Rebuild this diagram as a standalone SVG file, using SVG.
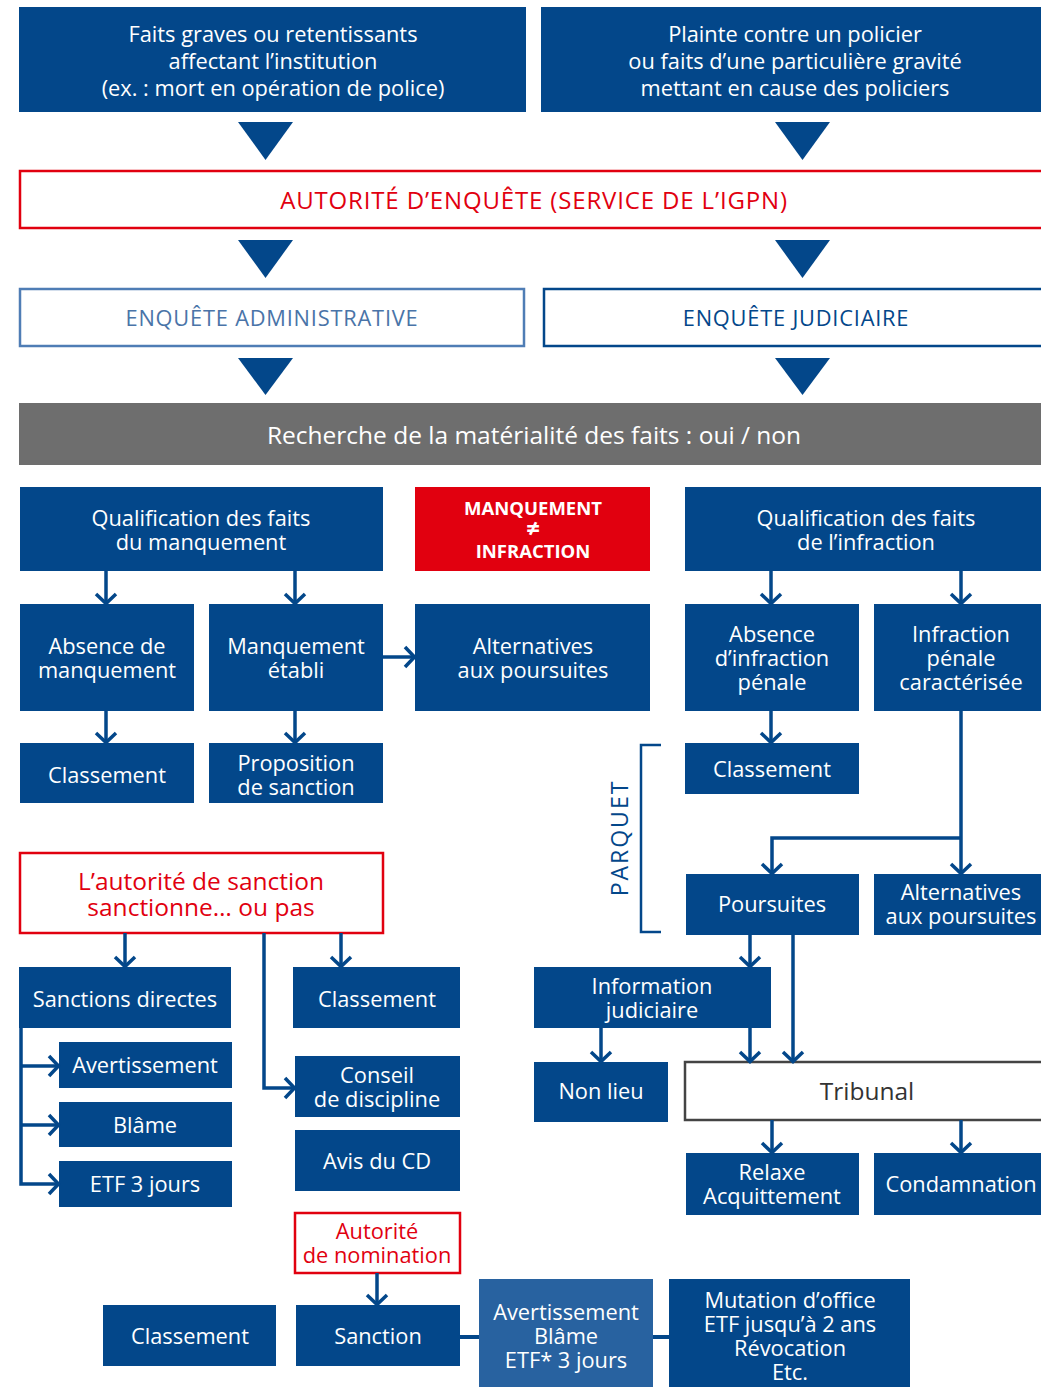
<svg xmlns="http://www.w3.org/2000/svg" width="1041" height="1387" viewBox="0 0 1041 1387">
  <style>
    .box { fill: #03478a; }
    .box2 { fill: #2862a0; }
    .redbox { fill: #e1000f; }
    .outline-red { fill: #fff; stroke: #e1000f; stroke-width: 2.5; }
    .t { font-family: "Open Sans", "Noto Sans", "DejaVu Sans", sans-serif; font-size: 21.8px; fill: #fff; text-anchor: middle; }
    .tr { fill: #e1000f; }
    .tb { font-weight: bold; font-size: 18.5px; }
    .big { font-size: 24.5px; }
    .caps { font-size: 21.8px; letter-spacing: 0.8px; }
    .conn { stroke: #03478a; stroke-width: 3.5; fill: none; }
    .tri { fill: #03478a; }
  </style>
  <defs>
    <marker id="chev" markerUnits="userSpaceOnUse" markerWidth="14" markerHeight="24" viewBox="0 0 14 24" refX="12" refY="12" orient="auto">
      <path d="M2,2 L11.5,12 L2,22" fill="none" stroke="#03478a" stroke-width="3.5"/>
    </marker>
  </defs>

  <rect width="1041" height="1387" fill="#fff"/>

  <!-- entry points -->
  <g id="n-faits-graves">
    <rect class="box" x="19" y="7" width="507" height="105"/>
    <text class="t" x="273" y="42">Faits graves ou retentissants</text>
    <text class="t" x="273" y="69">affectant l’institution</text>
    <text class="t" x="273" y="96">(ex. : mort en opération de police)</text>
  </g>
  <g id="n-plainte">
    <rect class="box" x="541" y="7" width="500" height="105"/>
    <text class="t" x="795" y="42">Plainte contre un policier</text>
    <text class="t" x="795" y="69">ou faits d’une particulière gravité</text>
    <text class="t" x="795" y="96">mettant en cause des policiers</text>
  </g>

  <!-- large flow triangles -->
  <g id="flow-triangles">
    <polygon class="tri" points="238,122 293,122 265.5,160"/>
    <polygon class="tri" points="775,122 830,122 802.5,160"/>
    <polygon class="tri" points="238,240 293,240 265.5,278"/>
    <polygon class="tri" points="775,240 830,240 802.5,278"/>
    <polygon class="tri" points="238,358 293,358 265.5,395"/>
    <polygon class="tri" points="775,358 830,358 802.5,395"/>
  </g>

  <g id="n-autorite-enquete">
    <rect class="outline-red" x="20" y="171" width="1030" height="57"/>
    <text class="t tr" x="534" y="209" style="font-size:24px; letter-spacing:0.85px">AUTORITÉ D’ENQUÊTE (SERVICE DE L’IGPN)</text>
  </g>

  <g id="n-enquete-admin">
    <rect x="20" y="289" width="504" height="57" fill="#fff" stroke="#4f7db5" stroke-width="2.5"/>
    <text class="t caps" x="272" y="326" style="fill:#4a74a8">ENQUÊTE ADMINISTRATIVE</text>
  </g>
  <g id="n-enquete-judiciaire">
    <rect x="544" y="289" width="506" height="57" fill="#fff" stroke="#03478a" stroke-width="2.5"/>
    <text class="t caps" x="796" y="326" style="fill:#03478a">ENQUÊTE JUDICIAIRE</text>
  </g>

  <g id="n-recherche">
    <rect x="19" y="403" width="1022" height="62" fill="#6e6e6e"/>
    <text class="t big" x="534" y="444">Recherche de la matérialité des faits : oui / non</text>
  </g>

  <!-- administrative branch -->
  <g id="n-qualif-manquement">
    <rect class="box" x="20" y="487" width="363" height="84"/>
    <text class="t" x="201" y="526">Qualification des faits</text>
    <text class="t" x="201" y="550">du manquement</text>
  </g>
  <g id="n-manquement-infraction">
    <rect class="redbox" x="415" y="487" width="235" height="84"/>
    <text class="t tb" x="533" y="515">MANQUEMENT</text>
    <text class="t" x="533" y="537" style="font-weight:bold; font-size:24px">≠</text>
    <text class="t tb" x="533" y="558">INFRACTION</text>
  </g>
  <g id="n-absence-manquement">
    <rect class="box" x="20" y="604" width="174" height="107"/>
    <text class="t" x="107" y="654">Absence de</text>
    <text class="t" x="107" y="678">manquement</text>
  </g>
  <g id="n-manquement-etabli">
    <rect class="box" x="209" y="604" width="174" height="107"/>
    <text class="t" x="296" y="654">Manquement</text>
    <text class="t" x="296" y="678">établi</text>
  </g>
  <g id="n-alternatives-admin">
    <rect class="box" x="415" y="604" width="235" height="107"/>
    <text class="t" x="533" y="654">Alternatives</text>
    <text class="t" x="533" y="678">aux poursuites</text>
  </g>
  <g id="n-classement-admin">
    <rect class="box" x="20" y="743" width="174" height="60"/>
    <text class="t" x="107" y="783">Classement</text>
  </g>
  <g id="n-proposition">
    <rect class="box" x="209" y="743" width="174" height="60"/>
    <text class="t" x="296" y="771">Proposition</text>
    <text class="t" x="296" y="795">de sanction</text>
  </g>

  <!-- judicial branch -->
  <g id="n-qualif-infraction">
    <rect class="box" x="685" y="487" width="356" height="84"/>
    <text class="t" x="866" y="526">Qualification des faits</text>
    <text class="t" x="866" y="550">de l’infraction</text>
  </g>
  <g id="n-absence-infraction">
    <rect class="box" x="685" y="604" width="174" height="107"/>
    <text class="t" x="772" y="642">Absence</text>
    <text class="t" x="772" y="666">d’infraction</text>
    <text class="t" x="772" y="690">pénale</text>
  </g>
  <g id="n-infraction-caracterisee">
    <rect class="box" x="874" y="604" width="167" height="107"/>
    <text class="t" x="961" y="642">Infraction</text>
    <text class="t" x="961" y="666">pénale</text>
    <text class="t" x="961" y="690">caractérisée</text>
  </g>
  <g id="n-classement-parquet">
    <rect class="box" x="685" y="743" width="174" height="51"/>
    <text class="t" x="772" y="777">Classement</text>
  </g>
  <g id="n-poursuites">
    <rect class="box" x="686" y="874" width="173" height="61"/>
    <text class="t" x="772" y="912">Poursuites</text>
  </g>
  <g id="n-alternatives-parquet">
    <rect class="box" x="874" y="874" width="167" height="61"/>
    <text class="t" x="961" y="900">Alternatives</text>
    <text class="t" x="961" y="924">aux poursuites</text>
  </g>
  <g id="n-parquet">
    <path d="M661,745 H641 V932 H661" fill="none" stroke="#03478a" stroke-width="2.5"/>
    <text class="t" x="620" y="846" transform="rotate(-90 620 838)" style="fill:#03478a; font-size:23px; letter-spacing:2px">PARQUET</text>
  </g>
  <g id="n-information">
    <rect class="box" x="534" y="967" width="237" height="61"/>
    <text class="t" x="652" y="994">Information</text>
    <text class="t" x="652" y="1018">judiciaire</text>
  </g>
  <g id="n-non-lieu">
    <rect class="box" x="534" y="1062" width="134" height="60"/>
    <text class="t" x="601" y="1099">Non lieu</text>
  </g>
  <g id="n-tribunal">
    <rect x="685" y="1062" width="365" height="58" fill="#fff" stroke="#444" stroke-width="2.5"/>
    <text class="t big" x="867" y="1100" style="fill:#333">Tribunal</text>
  </g>
  <g id="n-relaxe">
    <rect class="box" x="686" y="1153" width="173" height="62"/>
    <text class="t" x="772" y="1180">Relaxe</text>
    <text class="t" x="772" y="1204">Acquittement</text>
  </g>
  <g id="n-condamnation">
    <rect class="box" x="874" y="1153" width="167" height="62"/>
    <text class="t" x="961" y="1192">Condamnation</text>
  </g>

  <!-- sanction branch -->
  <g id="n-autorite-sanction">
    <rect class="outline-red" x="20" y="853" width="363" height="80"/>
    <text class="t tr big" x="201" y="890">L’autorité de sanction</text>
    <text class="t tr big" x="201" y="916">sanctionne… ou pas</text>
  </g>
  <g id="n-sanctions-directes">
    <rect class="box" x="19" y="967" width="212" height="61"/>
    <text class="t" x="125" y="1007">Sanctions directes</text>
  </g>
  <g id="n-avertissement">
    <rect class="box" x="59" y="1042" width="173" height="46"/>
    <text class="t" x="145" y="1073">Avertissement</text>
  </g>
  <g id="n-blame">
    <rect class="box" x="59" y="1102" width="173" height="45"/>
    <text class="t" x="145" y="1133">Blâme</text>
  </g>
  <g id="n-etf">
    <rect class="box" x="59" y="1161" width="173" height="46"/>
    <text class="t" x="145" y="1192">ETF 3 jours</text>
  </g>
  <g id="n-classement-sanction">
    <rect class="box" x="293" y="967" width="167" height="61"/>
    <text class="t" x="377" y="1007">Classement</text>
  </g>
  <g id="n-conseil">
    <rect class="box" x="295" y="1056" width="165" height="61"/>
    <text class="t" x="377" y="1083">Conseil</text>
    <text class="t" x="377" y="1107">de discipline</text>
  </g>
  <g id="n-avis-cd">
    <rect class="box" x="295" y="1130" width="165" height="61"/>
    <text class="t" x="377" y="1169">Avis du CD</text>
  </g>
  <g id="n-autorite-nomination">
    <rect class="outline-red" x="295" y="1213" width="165" height="60"/>
    <text class="t tr" x="377" y="1239">Autorité</text>
    <text class="t tr" x="377" y="1263">de nomination</text>
  </g>
  <g id="n-classement-final">
    <rect class="box" x="103" y="1305" width="173" height="61"/>
    <text class="t" x="190" y="1344">Classement</text>
  </g>
  <g id="n-sanction">
    <rect class="box" x="296" y="1305" width="164" height="61"/>
    <text class="t" x="378" y="1344">Sanction</text>
  </g>
  <g id="n-sanctions-legeres">
    <rect class="box2" x="479" y="1279" width="174" height="108"/>
    <text class="t" x="566" y="1320">Avertissement</text>
    <text class="t" x="566" y="1344">Blâme</text>
    <text class="t" x="566" y="1368">ETF* 3 jours</text>
  </g>
  <g id="n-sanctions-lourdes">
    <rect class="box" x="669" y="1279" width="241" height="108"/>
    <text class="t" x="790" y="1308">Mutation d’office</text>
    <text class="t" x="790" y="1332">ETF jusqu’à 2 ans</text>
    <text class="t" x="790" y="1356">Révocation</text>
    <text class="t" x="790" y="1380">Etc.</text>
  </g>

  <!-- connectors -->
  <g id="connectors">
    <path class="conn" d="M106,571 V604" marker-end="url(#chev)"/>
    <path class="conn" d="M295,571 V604" marker-end="url(#chev)"/>
    <path class="conn" d="M106,711 V743" marker-end="url(#chev)"/>
    <path class="conn" d="M295,711 V743" marker-end="url(#chev)"/>
    <path class="conn" d="M383,657 H415" marker-end="url(#chev)"/>
    <path class="conn" d="M771,571 V604" marker-end="url(#chev)"/>
    <path class="conn" d="M961,571 V604" marker-end="url(#chev)"/>
    <path class="conn" d="M771,711 V743" marker-end="url(#chev)"/>
    <path class="conn" d="M961,711 V874" marker-end="url(#chev)"/>
    <path class="conn" d="M961,838 H772 V874" marker-end="url(#chev)"/>
    <path class="conn" d="M750,935 V967" marker-end="url(#chev)"/>
    <path class="conn" d="M793,935 V1062" marker-end="url(#chev)"/>
    <path class="conn" d="M750,1028 V1062" marker-end="url(#chev)"/>
    <path class="conn" d="M601,1028 V1062" marker-end="url(#chev)"/>
    <path class="conn" d="M772,1120 V1153" marker-end="url(#chev)"/>
    <path class="conn" d="M961,1120 V1153" marker-end="url(#chev)"/>
    <path class="conn" d="M125,933 V967" marker-end="url(#chev)"/>
    <path class="conn" d="M341,933 V967" marker-end="url(#chev)"/>
    <path class="conn" d="M264,933 V1088 H295" marker-end="url(#chev)"/>
    <path class="conn" d="M21,1028 V1184 H59" marker-end="url(#chev)"/>
    <path class="conn" d="M21,1066 H59" marker-end="url(#chev)"/>
    <path class="conn" d="M21,1125 H59" marker-end="url(#chev)"/>
    <path class="conn" d="M377,1273 V1305" marker-end="url(#chev)"/>
    <path class="conn" d="M460,1337 H479" style="stroke-width:4"/>
    <path class="conn" d="M653,1337 H669" style="stroke-width:4"/>
  </g>
</svg>
